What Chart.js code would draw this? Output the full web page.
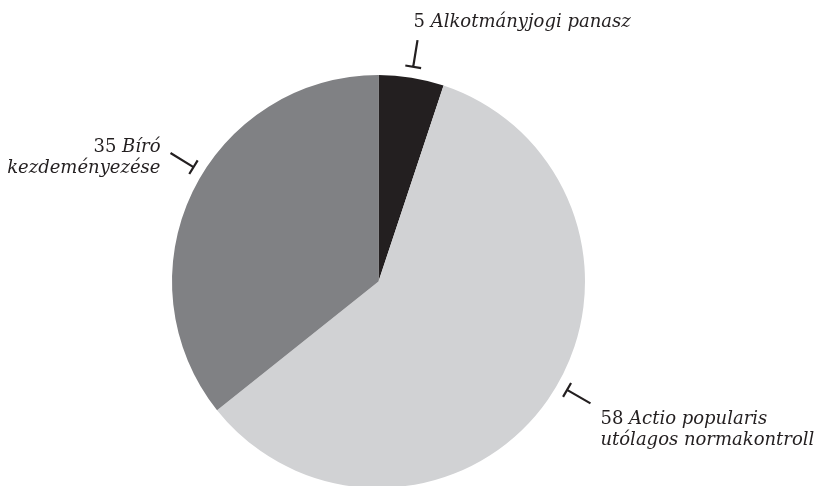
<!DOCTYPE html>
<html>
<head>
<meta charset="utf-8">
<script src="https://cdn.jsdelivr.net/npm/chart.js@4/dist/chart.umd.min.js"></script>
<style>
  html, body { margin: 0; padding: 0; background: #fff; overflow: hidden; }
  #wrap { position: relative; width: 816px; height: 500px; }
</style>
</head>
<body>
<div id="wrap"><canvas id="chart"></canvas></div>
<script>
// data
const counts = [5, 58, 35];
const labelLines = [
  ['Alkotmányjogi panasz'],
  ['Actio popularis', 'utólagos normakontroll'],
  ['Bíró', 'kezdeményezése']
];
const sliceColors = ['#231f20', '#d1d2d4', '#808184'];

// label placement (angle shift in degrees, text anchor)
const placement = [
  { shift: 0, align: 'left', dx: -4, dy: -13 },
  { shift: -5, align: 'left', dx: 10, dy: 21 },
  { shift: 6, align: 'right', dx: -10, dy: -1 }
];

const FONT = '"DejaVu Serif", serif';
const SIZE = 18;
const LINE_H = 21;

const leaderPlugin = {
  id: 'leaders',
  afterDatasetsDraw(chart) {
    const ctx = chart.ctx;
    const meta = chart.getDatasetMeta(0);
    meta.data.forEach((arc, i) => {
      const p = placement[i];
      const a = (arc.startAngle + arc.endAngle) / 2 + p.shift * Math.PI / 180;
      const r0 = arc.outerRadius + 11, r1 = arc.outerRadius + 38;
      const cos = Math.cos(a), sin = Math.sin(a);
      const ix = arc.x + cos * r0, iy = arc.y + sin * r0;
      const ox = arc.x + cos * r1, oy = arc.y + sin * r1;

      ctx.save();
      ctx.strokeStyle = '#231f20';
      ctx.lineWidth = 2.2;
      ctx.beginPath();
      ctx.moveTo(ix, iy);
      ctx.lineTo(ox, oy);
      // crossbar
      ctx.moveTo(ix - sin * 8, iy + cos * 8);
      ctx.lineTo(ix + sin * 8, iy - cos * 8);
      ctx.stroke();

      ctx.fillStyle = '#231f20';
      ctx.textBaseline = 'alphabetic';
      ctx.textAlign = 'left';
      const regular = SIZE + 'px ' + FONT;
      const italic = 'italic ' + SIZE + 'px ' + FONT;
      labelLines[i].forEach((txt, j) => {
        const by = oy + p.dy + j * LINE_H;
        const num = j === 0 ? counts[i] + ' ' : '';
        ctx.font = regular;
        const nw = ctx.measureText(num).width;
        ctx.font = italic;
        const tw = ctx.measureText(txt).width;
        let x = ox + p.dx;
        if (p.align === 'right') x -= nw + tw;
        ctx.font = regular;
        ctx.fillText(num, x, by);
        ctx.font = italic;
        ctx.fillText(txt, x + nw, by);
      });
      ctx.restore();
    });
  }
};

new Chart(document.getElementById('chart'), {
  type: 'pie',
  data: {
    labels: labelLines.map(l => l.join(' ')),
    datasets: [{
      data: counts,
      backgroundColor: sliceColors,
      borderWidth: 0,
      hoverOffset: 0
    }]
  },
  options: {
    responsive: true,
    maintainAspectRatio: false,
    animation: false,
    events: [],
    layout: { padding: { top: 75, bottom: 12, left: 172, right: 231 } },
    plugins: {
      legend: { display: false },
      tooltip: { enabled: false }
    }
  },
  plugins: [leaderPlugin]
});
</script>
</body>
</html>
